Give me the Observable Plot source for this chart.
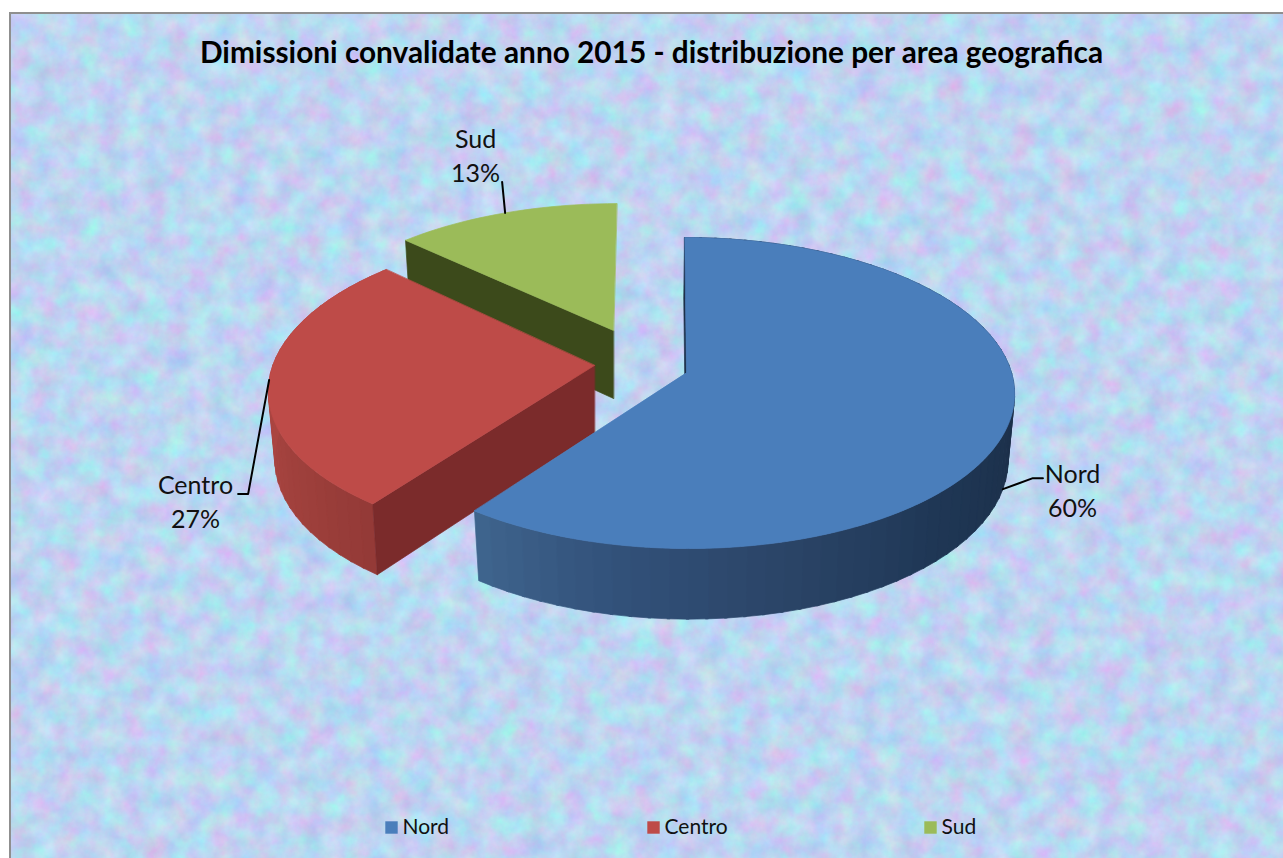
<!DOCTYPE html>
<html>
<head>
<meta charset="utf-8">
<script src="https://cdn.jsdelivr.net/npm/d3@7"></script>
<script src="https://cdn.jsdelivr.net/npm/@observablehq/plot@0.6"></script>
<style>
html,body{margin:0;padding:0;background:#fff;overflow:hidden}
#wrap{position:relative;width:1283px;height:858px}
#tex{position:absolute;left:9px;top:12px;width:1274px;height:846px;border:solid #8f8f8f;border-width:2px 0 0 2px;box-sizing:border-box}
#chart{position:absolute;left:0;top:0}
#chart svg{background:transparent;display:block}
</style>
</head>
<body>
<div id="wrap">
<svg id="tex" xmlns="http://www.w3.org/2000/svg">
  <filter id="noise" x="0" y="0" width="100%" height="100%" color-interpolation-filters="sRGB">
    <feTurbulence type="fractalNoise" baseFrequency="0.045" numOctaves="5" seed="7"/>
    <feColorMatrix type="matrix" values="0.30 -0.06 0 0 0.62  -0.10 0.26 0 0 0.755  0 0 0.10 0 0.895  0 0 0 0 1"/>
    <feGaussianBlur stdDeviation="0.6"/>
  </filter>
  <rect width="100%" height="100%" filter="url(#noise)"/>
</svg>
<div id="chart"></div>
</div>
<script>
const categories = ["Nord", "Centro", "Sud"];
const shares = [60, 27, 13];
const titleText = "Dimissioni convalidate anno 2015 - distribuzione per area geografica";

// drawing settings
const topColors = {Nord: "#4a7ebb", Centro: "#be4b48", Sud: "#9bbb59"};
const radialColors = {Nord: "#1c2f49", Centro: "#7b2b2b", Sud: "#3c4a1b"};
const pie = {
  Nord:   {ax: 686, ay: 372, scale: 1,    xs: 1,    lean: -2, depth: 66},
  Centro: {ax: 594, ay: 365, scale: 1,    xs: 0.99, lean: 11, depth: 67},
  Sud:    {ax: 613, ay: 330, scale: 0.94, xs: 1.03, lean: 4,  depth: 68}
};
const A = 325, B = 152.8, K = 0.132;
const labelPos = {
  Nord:   {x: 1072, y: 489, elbow: [[30, -11], [40, -11]], side: "bottom"},
  Centro: {x: 195,  y: 500, elbow: [[-21, 114], [-31, 114]], side: "top"},
  Sud:    {x: 475,  y: 154, elbow: [[-3, -31]], side: "top"}
};
const legendX = {Nord: 391, Centro: 653, Sud: 930};

const rad = d => d * Math.PI / 180;
function topPt(c, deg) {
  const p = pie[c], u = Math.sin(rad(deg)), v = Math.cos(rad(deg)), w = 1 + K * v;
  return [p.ax + (A * u * p.xs + p.lean * v) / w * p.scale, p.ay - B * v / w * p.scale, v];
}
function botPt(c, t) {
  const p = pie[c], v = t[2] === undefined ? 0 : t[2];
  return [p.ax + (t[0] - p.ax) * 0.98, t[1] + p.depth * (1 - 0.07 * v)];
}
const apex = c => [pie[c].ax, pie[c].ay, 0];

const ends = d3.cumsum(shares).map(s => s / d3.sum(shares) * 360);
const spans = Object.fromEntries(categories.map((c, i) => [c, [i ? ends[i - 1] : 0, ends[i]]]));

const blueShade = d3.scaleLinear().domain([216, 190, 165, 135, 100, 0]).range(["#40668f", "#32517a", "#2b4568", "#1f3755", "#1c2f49", "#1c2f49"]);
const redShade = d3.scaleLinear().domain([216, 235, 260, 314]).range(["#943a37", "#9f403c", "#aa4541", "#aa4541"]);

const polys = [];
let pid = 0;
const addPoly = (pts, color) => { const id = pid++; pts.forEach(q => polys.push({id, x: q[0], y: q[1], color})); };
const arc = (c, a, b, step = 2) => { const n = Math.ceil((b - a) / step); return d3.range(n + 1).map(i => topPt(c, a + (b - a) * i / n)); };

function drawSlice(c) {
  const [a, b] = spans[c];
  const P = apex(c), Pb = botPt(c, P);
  if (c === "Sud") {
    const r = topPt(c, a);
    addPoly([P, r, botPt(c, r), Pb], radialColors[c]);
  }
  if (c === "Centro") {
    for (let t = a; t < b; t += 3) {
      const r0 = topPt(c, t), r1 = topPt(c, Math.min(t + 3.4, b));
      addPoly([r0, r1, botPt(c, r1), botPt(c, r0)], redShade(t));
    }
    const r = topPt(c, a);
    addPoly([P, r, botPt(c, r), Pb], radialColors[c]);
  }
  if (c === "Nord") {
    const r = topPt(c, 0);
    addPoly([P, r, [botPt(c, r)[0] - 1, botPt(c, r)[1]], [Pb[0] - 1, Pb[1]]], radialColors[c]);
    for (let t = a; t < b; t += 3) {
      const r0 = topPt(c, t), r1 = topPt(c, Math.min(t + 3.4, b));
      addPoly([r0, r1, botPt(c, r1), botPt(c, r0)], blueShade(t));
    }
  }
  addPoly([P, ...arc(c, a, b)], topColors[c]);
}
["Sud", "Centro", "Nord"].forEach(drawSlice);

// leader lines start on the slice at its middle angle
const leaders = [];
categories.forEach(c => {
  const [a, b] = spans[c], t = topPt(c, (a + b) / 2), L = labelPos[c];
  const s = L.side === "bottom" ? botPt(c, t) : t;
  leaders.push({c, x: s[0], y: s[1]});
  L.elbow.forEach(e => leaders.push({c, x: s[0] + e[0], y: s[1] + e[1]}));
});

const labels = categories.map((c, i) => ({text: `${c}\n${shares[i]}%`, x: labelPos[c].x, y: labelPos[c].y}));
const LEGEND_Y = 827;

const plot = Plot.plot({
  width: 1283, height: 858, margin: 0,
  x: {domain: [0, 1283], range: [0, 1283], axis: null},
  y: {domain: [0, 858], range: [0, 858], axis: null},
  style: {background: "transparent"},
  marks: [
    Plot.line(polys, {x: "x", y: "y", z: "id", fill: "color", stroke: "color", strokeWidth: 0.7, curve: "linear-closed"}),
    Plot.line(leaders, {x: "x", y: "y", z: "c", stroke: "#000", strokeWidth: 2}),
    Plot.text(labels, {x: "x", y: "y", text: "text", fontSize: 25, fontFamily: "Lato", fill: "#111", lineHeight: 1.34, textAnchor: "middle"}),
    Plot.text([titleText], {x: () => 651, y: () => 53, text: d => d, fontSize: 29.8, fontWeight: 700, fontFamily: "Lato", fill: "#000", textAnchor: "middle"}),
    Plot.dot(categories, {x: c => legendX[c], y: () => LEGEND_Y, symbol: "square", r: 7, fill: c => topColors[c], stroke: "none"}),
    Plot.text(categories, {x: c => legendX[c] + 11, y: () => LEGEND_Y, text: d => d, fontSize: 21, fontFamily: "Lato", fill: "#111", textAnchor: "start"})
  ]
});
document.getElementById("chart").appendChild(plot);
</script>
</body>
</html>
